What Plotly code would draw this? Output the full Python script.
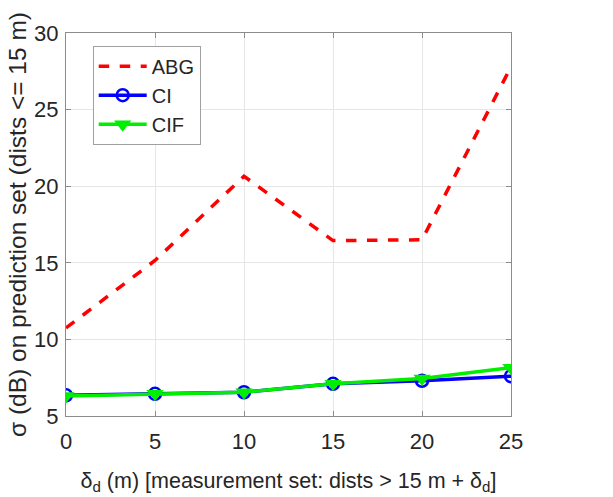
import plotly.graph_objects as go

delta_d = [0, 5, 10, 15, 20, 25]
abg = [10.75, 15.15, 20.65, 16.45, 16.5, 27.8]
ci = [6.35, 6.45, 6.55, 7.1, 7.3, 7.6]
cif = [6.3, 6.45, 6.55, 7.1, 7.45, 8.15]
x_ticks = [0, 5, 10, 15, 20, 25]
y_ticks = [5, 10, 15, 20, 25, 30]

fig = go.Figure()
fig.add_trace(go.Scatter(x=delta_d, y=abg, name="ABG", mode="lines",
                         line=dict(color="#ff0000", width=3.5, dash="dash")))
fig.add_trace(go.Scatter(x=delta_d, y=ci, name="CI", mode="lines+markers",
                         line=dict(color="#0000ff", width=3.5),
                         marker=dict(symbol="circle-open", size=12, color="#0000ff",
                                     line=dict(width=2.5, color="#0000ff"))))
fig.add_trace(go.Scatter(x=delta_d, y=cif, name="CIF", mode="lines+markers",
                         line=dict(color="#00ee00", width=3.5),
                         marker=dict(symbol="triangle-down", size=15, color="#00ee00")))

axis_common = dict(showgrid=True, gridcolor="#e6e6e6",
                   showline=True, linecolor="#8c8c8c", linewidth=1, mirror="ticks",
                   ticks="inside", ticklen=5, tickcolor="#8c8c8c",
                   tickfont=dict(size=22), zeroline=False, automargin=False)

fig.update_layout(
    width=613, height=497,
    margin=dict(l=66, r=102, t=33, b=81),
    paper_bgcolor="white", plot_bgcolor="white",
    font=dict(family="Liberation Sans, Arial, sans-serif", size=18, color="#262626"),
    showlegend=True,
    legend=dict(x=0.06, y=0.967, xanchor="left", yanchor="top",
                bordercolor="#a0a0a0", borderwidth=1, bgcolor="white",
                font=dict(size=20, color="#262626"), tracegroupgap=0,
                itemwidth=48),
    xaxis=dict(range=[0, 25], tickvals=x_ticks, ticklabelstandoff=6,
               title=dict(text="δ<sub>d</sub> (m) [measurement set: dists > 15 m + δ<sub>d</sub>]",
                          font=dict(size=21.5), standoff=19),
               **axis_common),
    yaxis=dict(range=[5, 30], tickvals=y_ticks, ticklabelstandoff=2,
               title=dict(text="σ (dB) on prediction set (dists <= 15 m)",
                          font=dict(size=24.5), standoff=0),
               **axis_common),
)
fig.write_html("out.html")
